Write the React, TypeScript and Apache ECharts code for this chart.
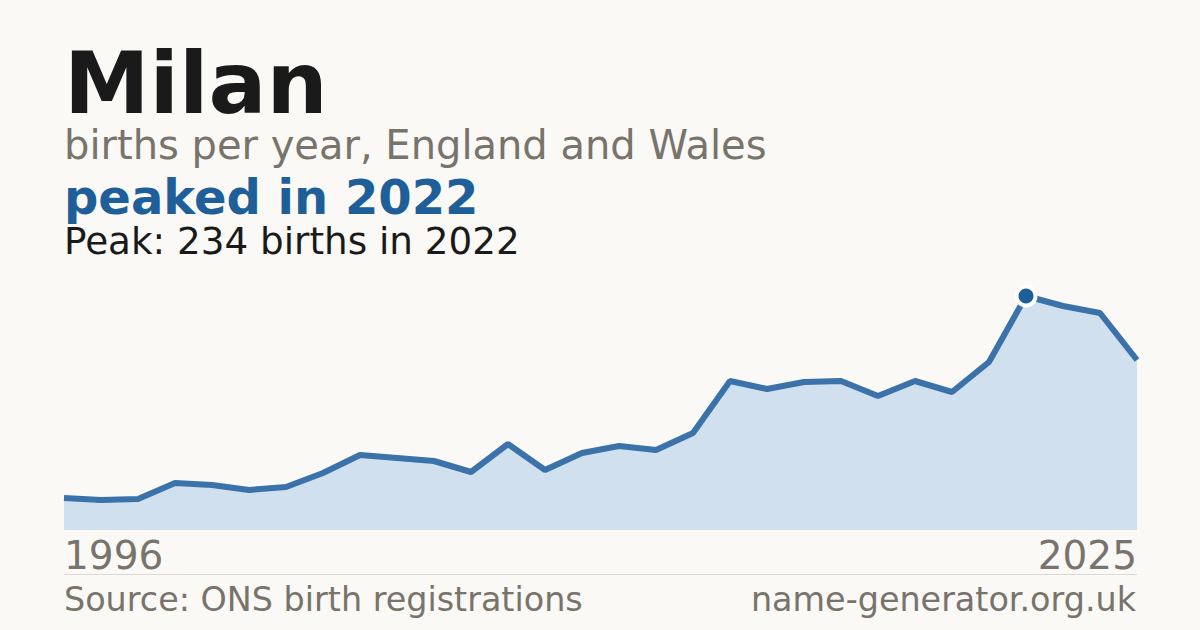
import React, { useEffect, useRef } from "react";
import * as echarts from "echarts";

const years: string[] = [
  "1996", "1997", "1998", "1999", "2000", "2001", "2002", "2003", "2004", "2005",
  "2006", "2007", "2008", "2009", "2010", "2011", "2012", "2013", "2014", "2015",
  "2016", "2017", "2018", "2019", "2020", "2021", "2022", "2023", "2024", "2025",
];
const births: number[] = [
  32, 30, 31, 47, 45, 40, 43, 57, 75, 72,
  69, 58, 86, 60, 77, 84, 80, 97, 149, 141,
  148, 149, 134, 149, 138, 168, 234, 224, 217, 170,
];
const titleText = "Milan";
const subtitleText = "births per year, England and Wales";
const headlineText = "peaked in 2022";
const peakText = "Peak: 234 births in 2022";
const sourceText = "Source: ONS birth registrations";
const siteText = "name-generator.org.uk";

const FONT = "'DejaVu Sans', sans-serif";
const BG = "#faf9f5";
const INK = "#1a1a1a";
const GREY = "#78736b";
const BLUE = "#1f5f99";

export default function App() {
  const ref = useRef<HTMLDivElement>(null);
  useEffect(() => {
    if (!ref.current) return;
    const chart = echarts.init(ref.current, null, { renderer: "svg" });
    const peakIdx = births.indexOf(Math.max(...births));
    const lastIdx = years.length - 1;
    const headText = (text: string, baseline: number, size: number, weight: string, fill: string) => ({
      type: "text",
      x: 64,
      y: baseline - 0.346 * size,
      style: {
        text,
        font: `${weight} ${size}px ${FONT}`,
        fill,
        align: "left",
        verticalAlign: "middle",
        lineHeight: Math.round(size * 0.9),
      },
    });
    chart.setOption({
      animation: false,
      backgroundColor: BG,
      grid: { left: 64, right: 63, top: 270, bottom: 100 },
      xAxis: {
        type: "category",
        data: years,
        boundaryGap: false,
        axisLine: { show: false },
        axisTick: { show: false },
        splitLine: { show: false },
        axisLabel: {
          interval: (i: number) => i === 0 || i === lastIdx,
          color: GREY,
          fontFamily: FONT,
          fontSize: 39,
          margin: 6,
          alignMinLabel: "left",
          alignMaxLabel: "right",
        },
      },
      yAxis: {
        type: "value",
        min: 0,
        max: 260,
        show: false,
        splitLine: { show: false },
      },
      series: [
        {
          type: "line",
          data: births.map((v, i) =>
            i === peakIdx
              ? {
                  value: v,
                  symbol: "circle",
                  symbolSize: 19,
                  itemStyle: { color: BLUE, borderColor: "#ffffff", borderWidth: 4 },
                }
              : v
          ),
          symbol: "none",
          showSymbol: true,
          lineStyle: { color: "#3a72a9", width: 6 },
          areaStyle: { color: "#d0e0ef", opacity: 1 },
          z: 3,
        },
      ],
      graphic: [
        headText(titleText, 112.7, 86, "bold", INK),
        headText(subtitleText, 159, 40, "normal", GREY),
        headText(headlineText, 214, 48, "bold", BLUE),
        headText(peakText, 254, 37.3, "normal", INK),
        {
          type: "line",
          shape: { x1: 64, y1: 574.5, x2: 1137, y2: 574.5 },
          style: { stroke: "#dcd9d2", lineWidth: 1 },
        },
        {
          type: "text",
          left: 64,
          top: 583,
          style: { text: sourceText, font: `33.4px ${FONT}`, fill: GREY },
        },
        {
          type: "text",
          right: 64,
          top: 583,
          style: { text: siteText, font: `33.4px ${FONT}`, fill: GREY },
        },
      ],
    });
    return () => chart.dispose();
  }, []);
  return (
    <div
      ref={ref}
      style={{ position: "fixed", left: 0, top: 0, width: 1200, height: 630 }}
    />
  );
}
